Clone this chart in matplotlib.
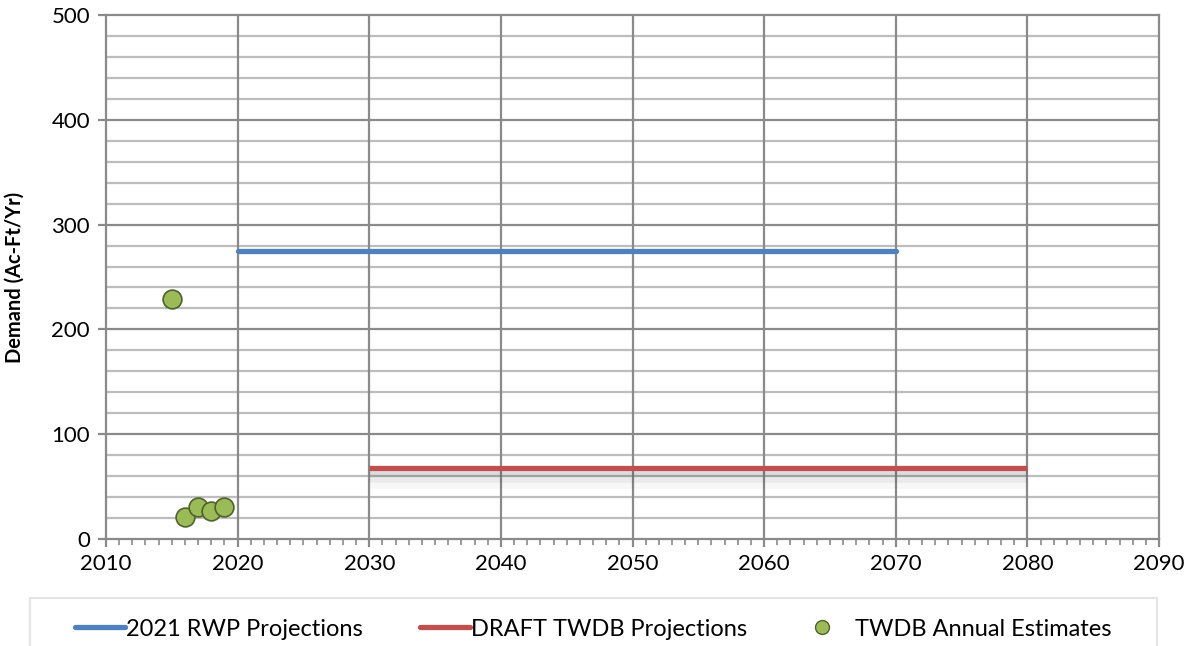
import matplotlib
matplotlib.use("Agg")
import matplotlib.pyplot as plt
import matplotlib.patheffects as pe
from matplotlib.patches import Rectangle
from matplotlib.lines import Line2D
from matplotlib.ticker import MultipleLocator

plt.rcParams['font.family'] = ['Lato', 'DejaVu Sans']

# Data
rwp_years = [2020, 2070]
rwp_values = [275, 275]
draft_years = [2030, 2080]
draft_values = [68, 68]
est_years = [2015, 2016, 2017, 2018, 2019]
est_values = [229, 21, 31, 27, 31]

series_labels = ["2021 RWP Projections", "DRAFT TWDB Projections", "TWDB Annual Estimates"]
y_label = "Demand (Ac-Ft/Yr)"

BLUE = '#4F81BD'
RED = '#C0504D'
GREEN = '#9BBB59'
GREEN_EDGE = '#4F6228'
GRID = '#8a8a8a'

fig = plt.figure(figsize=(11.86, 6.46), dpi=100)
ax = fig.add_axes([106/1186, 1 - 539/646, (1159-106)/1186, (539-15)/646])

ax.set_xlim(2010, 2090)
ax.set_ylim(0, 500)
ax.xaxis.set_major_locator(MultipleLocator(10))
ax.xaxis.set_minor_locator(MultipleLocator(1))
ax.yaxis.set_major_locator(MultipleLocator(100))
ax.yaxis.set_minor_locator(MultipleLocator(20))

# gridlines
for y in range(20, 500, 20):
    if y % 100:
        ax.axhline(y, color='#bdbdbd', lw=1.6, zorder=0.5)
for y in range(100, 500, 100):
    ax.axhline(y, color=GRID, lw=1.6, zorder=0.6)
for x in range(2020, 2090, 10):
    ax.axvline(x, color=GRID, lw=1.6, zorder=0.6)

for s in ax.spines.values():
    s.set_color(GRID)
    s.set_linewidth(1.6)

ax.tick_params(axis='x', which='major', direction='out', length=6, width=1.6, color=GRID,
               labelsize=16, pad=5)
ax.tick_params(axis='x', which='minor', direction='out', length=4, width=1.2, color=GRID)
ax.tick_params(axis='y', which='major', direction='out', length=5.5, width=1.6, color=GRID,
               labelsize=16, pad=6)
ax.tick_params(axis='y', which='minor', length=0)
ax.tick_params(axis='both', labelcolor='black')

ax.set_ylabel(y_label, fontsize=14.4, fontweight='bold')
ax.yaxis.set_label_coords(-0.077, 0.5)

ax.plot(rwp_years, rwp_values, color=BLUE, lw=3.8, solid_capstyle='round', zorder=3)
shadow = [pe.SimpleLineShadow(offset=(0, -9), shadow_color='#000000', alpha=0.03, linewidth=12),
          pe.SimpleLineShadow(offset=(0, -6), shadow_color='#000000', alpha=0.05, linewidth=9),
          pe.SimpleLineShadow(offset=(0, -4), shadow_color='#000000', alpha=0.06, linewidth=5),
          pe.Normal()]
ax.plot(draft_years, draft_values, color=RED, lw=3.8, solid_capstyle='butt',
        zorder=3, path_effects=shadow)
ax.plot(est_years, est_values, linestyle='none', marker='o', markersize=13.5,
        markerfacecolor=GREEN, markeredgecolor=GREEN_EDGE, markeredgewidth=1.2,
        zorder=4, clip_on=False)

# legend frame (faint)
fig.patches.append(Rectangle((30/1186, -0.05), (1157-30)/1186, 0.05 + (646-598)/646,
                             transform=fig.transFigure, facecolor='white',
                             edgecolor='#e4e4e4', lw=1.5, zorder=0))

handles = [
    Line2D([], [], color=BLUE, lw=3.8, solid_capstyle='round'),
    Line2D([], [], color=RED, lw=3.8, solid_capstyle='round'),
    Line2D([], [], linestyle='none', marker='o', markersize=10,
           markerfacecolor=GREEN, markeredgecolor=GREEN_EDGE, markeredgewidth=1.0),
]
starts = [75, 420, 797]
pads = [0.08, 0.08, 0.35]
for h, lab, x0, pad in zip(handles, series_labels, starts, pads):
    fig.legend([h], [lab], loc='center left', bbox_to_anchor=(x0/1186, 1 - 629/646),
               frameon=False, fontsize=17, handlelength=2.1, handletextpad=pad,
               borderpad=0, borderaxespad=0)

fig.savefig("out.png", dpi=100)
